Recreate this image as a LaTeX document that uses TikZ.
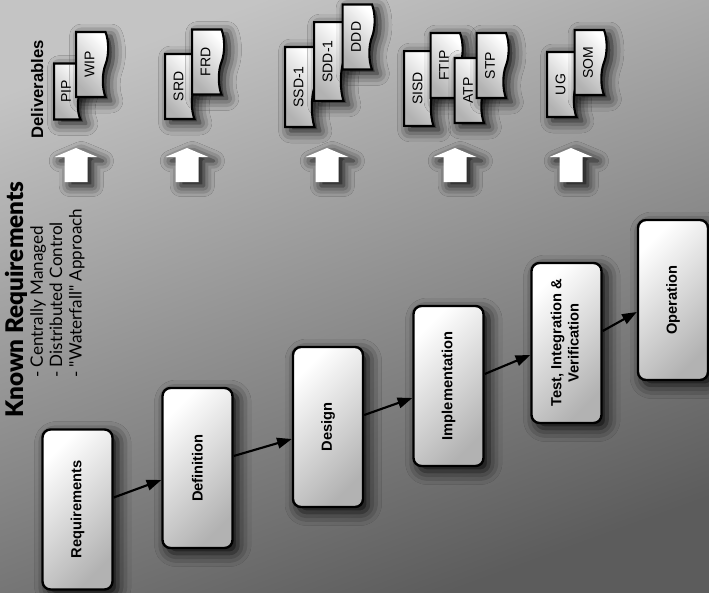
\documentclass[tikz,border=0pt]{standalone}
\usepackage{fontspec}
\setmainfont{Liberation Sans}
\newfontfamily\notefont{Lato}
\IfFontExistsTF{Lato Black}
  {\newfontfamily\headfont{Lato Black}}
  {\newfontfamily\headfont{Lato}[UprightFont=*-Bold]}
\usetikzlibrary{arrows.meta,shapes.symbols,shadows.blur}

\definecolor{bgtop}{HTML}{C4C4C4}
\definecolor{bgbottom}{HTML}{5C5C5C}
\definecolor{boxgray}{HTML}{B2B2B2}

\newcommand{\uptext}[1]{\rotatebox{90}{#1}}

\begin{document}
\begin{tikzpicture}[x=0.75pt,y=-0.75pt,
    stage/.style={draw,line width=1.8pt,rounded corners=6pt,
      minimum width=52.5pt,minimum height=120pt,inner sep=0pt,
      top color=white,bottom color=boxgray,shading angle=45,
      blur shadow={shadow xshift=4pt,shadow yshift=-4pt,
        shadow blur radius=10pt,shadow opacity=95},
      font=\fontsize{11}{13}\selectfont\bfseries},
    flow/.style={line width=1.6pt,-{Triangle[length=11pt,width=8pt,fill=black]}},
    sheet/.style={tape,tape bend top=none,tape bend bottom=out and in,
      tape bend height=4pt,draw,line width=1.6pt,rotate=90,
      minimum width=48.75pt,minimum height=24pt,inner sep=1pt,
      top color=white,bottom color=boxgray,shading angle=-45,
      blur shadow={shadow xshift=4pt,shadow yshift=-3pt,
        shadow blur radius=9pt,shadow opacity=95},
      font=\fontsize{10.5}{12}\selectfont},
    lift/.style={fill=white,blur shadow={shadow xshift=4pt,shadow yshift=-3pt,
        shadow blur radius=8pt,shadow opacity=95}}]

  \useasboundingbox (0,0) rectangle (709,592);
  \shade[top color=bgtop,bottom color=bgbottom,shading angle=20] (0,0) rectangle (709,592);

  % notes on the left
  \node[rotate=90,anchor=base west,inner sep=0pt,
    font=\headfont\fontsize{18.2}{22}\selectfont] (known) at (23,418) {Known Requirements};
  \node[rotate=90,anchor=north west,inner sep=0pt,align=left,
    font=\notefont\fontsize{12.8}{14.5}\selectfont] (notes) at (30,378)
    {- Centrally Managed\\- Distributed Control\\- "Waterfall" Approach};
  \node[rotate=90,anchor=base east,inner sep=0pt,
    font=\fontsize{12.5}{15}\selectfont\bfseries] (deliv) at (43,40) {Deliverables};

  % documents
  \node[sheet,minimum width=42pt,minimum height=21.75pt] (pip) at (66,91.5) {PIP};
  \node[sheet] (wip) at (89.5,64.5) {WIP};

  \node[sheet] (srd) at (178.5,86.5) {SRD};
  \node[sheet] (frd) at (205.5,62) {FRD};

  \node[sheet,minimum width=60pt] (ssd) at (298.5,87) {SSD-1};
  \node[sheet,minimum width=59pt] (sdd) at (327.5,61.5) {SDD-1};
  \node[sheet] (ddd) at (356,37) {DDD};

  \node[sheet,minimum width=56pt] (sisd) at (417.5,88.5) {SISD};
  \node[sheet] (ftip) at (444,65.5) {FTIP};
  \node[sheet] (atp) at (468,90.5) {ATP};
  \node[sheet] (stp) at (490,65.5) {STP};

  \node[sheet] (ug) at (560.5,84.5) {UG};
  \node[sheet] (som) at (588,62.5) {SOM};

  % white arrows under the documents
  \fill[lift] (64.5,182) -- ++(0,-25) -- ++(-10,0) -- ++(21.5,-9) -- ++(21.5,9) -- ++(-10,0) -- ++(0,25) -- cycle;
  \fill[lift] (175.5,182) -- ++(0,-25) -- ++(-10,0) -- ++(21.5,-9) -- ++(21.5,9) -- ++(-10,0) -- ++(0,25) -- cycle;
  \fill[lift] (315.5,182) -- ++(0,-25) -- ++(-10,0) -- ++(21.5,-9) -- ++(21.5,9) -- ++(-10,0) -- ++(0,25) -- cycle;
  \fill[lift] (443.5,182) -- ++(0,-25) -- ++(-10,0) -- ++(21.5,-9) -- ++(21.5,9) -- ++(-10,0) -- ++(0,25) -- cycle;
  \fill[lift] (559.5,182) -- ++(0,-25) -- ++(-10,0) -- ++(21.5,-9) -- ++(21.5,9) -- ++(-10,0) -- ++(0,25) -- cycle;

  % phases
  \node[stage] (req) at (77.5,509.5) {\uptext{Requirements}};
  \node[stage] (def) at (197.5,468) {\uptext{Definition}};
  \node[stage] (des) at (328,427) {\uptext{Design}};
  \node[stage] (imp) at (448.5,386) {\uptext{Implementation}};
  \node[stage] (tiv) at (566.5,343)
    {\uptext{\begin{tabular}{@{}c@{}}Test, Integration \&\\Verification\end{tabular}}};
  \node[stage] (op) at (673,300) {\uptext{Operation}};

  \draw[flow] ([yshift=9pt]req.east) -- ([yshift=-9pt]def.west);
  \draw[flow] ([yshift=9pt]def.east) -- ([yshift=-9pt]des.west);
  \draw[flow] ([yshift=9pt]des.east) -- ([yshift=-9pt]imp.west);
  \draw[flow] ([yshift=9pt]imp.east) -- ([yshift=-9pt]tiv.west);
  \draw[flow] ([yshift=9pt]tiv.east) -- ([yshift=-9pt]op.west);
\end{tikzpicture}
\end{document}
